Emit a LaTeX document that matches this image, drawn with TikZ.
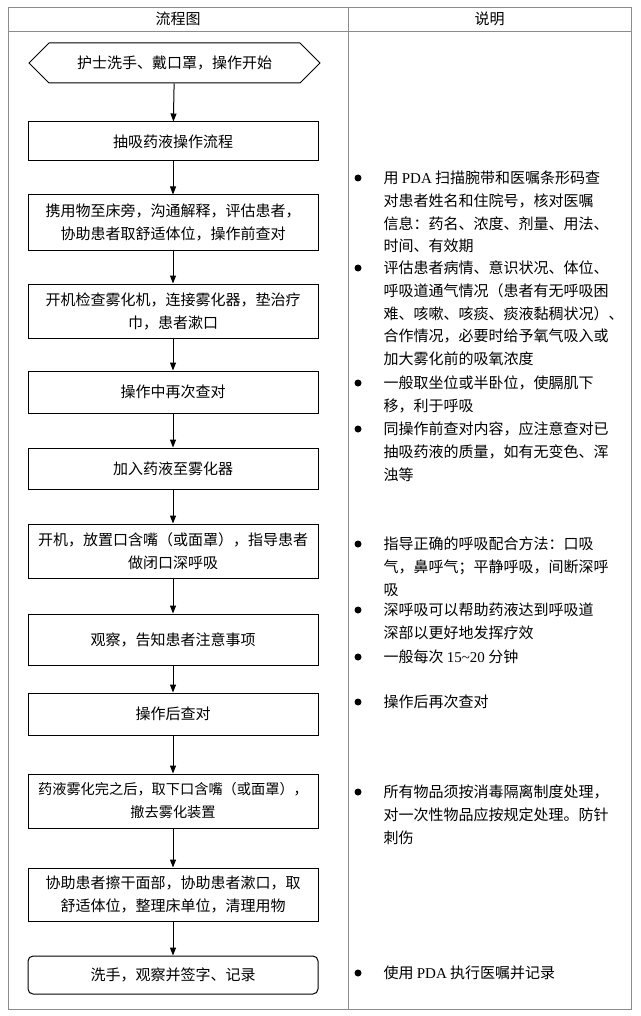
\documentclass[tikz,border=0pt]{standalone}
\usepackage{fontspec}
\setmainfont{Noto Sans CJK SC}
\newfontfamily\latfont{Liberation Serif}
\usepackage{tikz}
\usetikzlibrary{arrows.meta,shapes.symbols}

\begin{document}
\begin{tikzpicture}[x=1pt,y=-1pt,
  box/.style={rectangle, draw, line width=1pt, minimum width=290pt,
    inner sep=2pt, align=center, font=\fontsize{15}{23}\selectfont},
  startbox/.style={signal, signal to=west and east, signal pointer angle=90,
    draw, line width=1pt, minimum width=291pt, minimum height=40pt,
    font=\fontsize{15}{23}\selectfont},
  endbox/.style={box, rounded corners=5pt},
  dot/.style={circle, fill, inner sep=0pt, minimum size=7pt},
  note/.style={anchor=north west, inner sep=0pt, align=left,
    font=\fontsize{15}{22.7}\selectfont},
  head/.style={font=\fontsize{15}{18}\selectfont},
  grid/.style={-, draw=black!45, line width=0.8pt},
  ->,>={Triangle[length=8pt,width=6pt]},line width=1pt
]
  \useasboundingbox (0,0) rectangle (640,1016);

  % table
  \draw[grid] (8,7) rectangle (631,1009);
  \draw[grid] (8,31) -- (631,31);
  \draw[grid] (348,7) -- (348,1009);
  \node[head] (headflow) at (178,19) {流程图};
  \node[head] (headnote) at (489.5,19) {说明};

  % flow chart
  \node[startbox] (start) at (174.5,63) {护士洗手、戴口罩，操作开始};
  \node[box, minimum height=39pt] (draw) at (173,141.5) {抽吸药液操作流程};
  \node[box, minimum height=55pt] (prep) at (173,222.5)
    {携用物至床旁，沟通解释，评估患者，\\协助患者取舒适体位，操作前查对};
  \node[box, minimum height=54pt] (setup) at (173,311)
    {开机检查雾化机，连接雾化器，垫治疗\\巾，患者漱口};
  \node[box, minimum height=42pt] (recheck) at (173,392) {操作中再次查对};
  \node[box, minimum height=41pt] (addmed) at (173,468.5) {加入药液至雾化器};
  \node[box, minimum height=54pt] (inhale) at (173,551)
    {开机，放置口含嘴（或面罩），指导患者\\做闭口深呼吸};
  \node[box, minimum height=51pt] (observe) at (173,639.5) {观察，告知患者注意事项};
  \node[box, minimum height=42pt] (postcheck) at (173,714) {操作后查对};
  \node[box, minimum height=54pt, font=\fontsize{14.2}{23}\selectfont] (remove) at (173,801)
    {药液雾化完之后，取下口含嘴（或面罩），\\撤去雾化装置};
  \node[box, minimum height=53pt] (tidy) at (173,894.5)
    {协助患者擦干面部，协助患者漱口，取\\舒适体位，整理床单位，清理用物};
  \node[endbox, minimum height=38pt] (finish) at (173,975) {洗手，观察并签字、记录};

  \draw (start) -- (draw);
  \draw (draw) -- (prep);
  \draw (prep) -- (setup);
  \draw (setup) -- (recheck);
  \draw (recheck) -- (addmed);
  \draw (addmed) -- (inhale);
  \draw (inhale) -- (observe);
  \draw (observe) -- (postcheck);
  \draw (postcheck) -- (remove);
  \draw (remove) -- (tidy);
  \draw (tidy) -- (finish);

  % notes
  \node[dot] (dotA) at (358,178) {};
  \node[note] (noteA) at (383,170.5)
    {用 {\latfont PDA} 扫描腕带和医嘱条形码查\\对患者姓名和住院号，核对医嘱\\信息：药名、浓度、剂量、用法、\\时间、有效期};
  \node[dot] (dotB) at (358,268) {};
  \node[note] (noteB) at (383,260.5)
    {评估患者病情、意识状况、体位、\\呼吸道通气情况（患者有无呼吸困\\难、咳嗽、咳痰、痰液黏稠状况）、\\合作情况，必要时给予氧气吸入或\\加大雾化前的吸氧浓度};
  \node[dot] (dotC) at (358,383) {};
  \node[note] (noteC) at (383,375.5)
    {一般取坐位或半卧位，使膈肌下\\移，利于呼吸};
  \node[dot] (dotD) at (358,429) {};
  \node[note] (noteD) at (383,421.5)
    {同操作前查对内容，应注意查对已\\抽吸药液的质量，如有无变色、浑\\浊等};
  \node[dot] (dotE) at (358,544) {};
  \node[note] (noteE) at (383,536.5)
    {指导正确的呼吸配合方法：口吸\\气，鼻呼气；平静呼吸，间断深呼\\吸};
  \node[dot] (dotF) at (358,610) {};
  \node[note] (noteF) at (383,602.5)
    {深呼吸可以帮助药液达到呼吸道\\深部以更好地发挥疗效};
  \node[dot] (dotG) at (358,657) {};
  \node[note] (noteG) at (383,649.5)
    {一般每次 {\latfont 15\textasciitilde 20} 分钟};
  \node[dot] (dotH) at (358,702) {};
  \node[note] (noteH) at (383,694.5) {操作后再次查对};
  \node[dot] (dotI) at (358,792) {};
  \node[note] (noteI) at (383,784.5)
    {所有物品须按消毒隔离制度处理，\\对一次性物品应按规定处理。防针\\刺伤};
  \node[dot] (dotJ) at (358,973) {};
  \node[note] (noteJ) at (383,965.5)
    {使用 {\latfont PDA} 执行医嘱并记录};
\end{tikzpicture}
\end{document}
